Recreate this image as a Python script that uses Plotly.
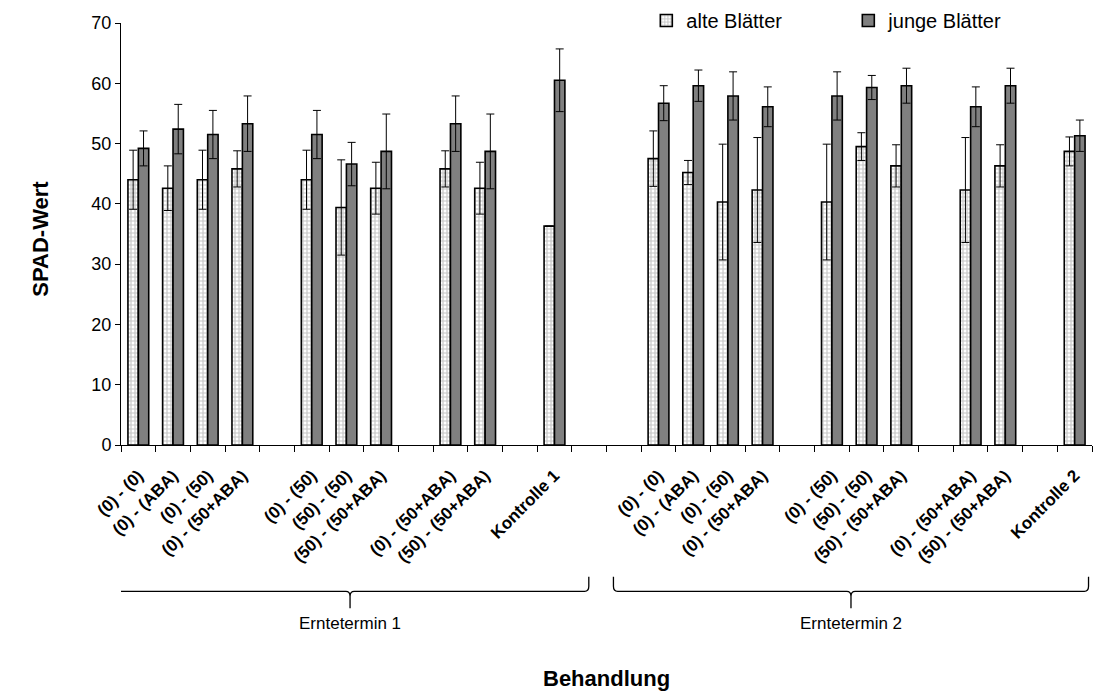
import plotly.graph_objects as go

# Treatment labels per slot; empty strings are spacer slots between groups
labels_e1 = ["(0) - (0)", "(0) - (ABA)", "(0) - (50)", "(0) - (50+ABA)", "",
             "(0) - (50)", "(50) - (50)", "(50) - (50+ABA)", "",
             "(0) - (50+ABA)", "(50) - (50+ABA)", "", "Kontrolle 1"]
labels_gap = ["", ""]
labels_e2 = ["(0) - (0)", "(0) - (ABA)", "(0) - (50)", "(0) - (50+ABA)", "",
             "(0) - (50)", "(50) - (50)", "(50) - (50+ABA)", "",
             "(0) - (50+ABA)", "(50) - (50+ABA)", "", "Kontrolle 2"]

# SPAD values, old leaves
alte_e1 = [44.0, 42.6, 44.0, 45.8, None, 44.0, 39.4, 42.6, None, 45.8, 42.6, None, 36.3]
alte_e2 = [47.5, 45.2, 40.3, 42.3, None, 40.3, 49.5, 46.3, None, 42.3, 46.3, None, 48.7]
alte_err_e1 = [4.9, 3.7, 4.9, 3.0, None, 4.9, 7.9, 4.3, None, 3.0, 4.3, None, 0.0]
alte_err_e2 = [4.6, 2.0, 9.6, 8.7, None, 9.6, 2.3, 3.5, None, 8.7, 3.5, None, 2.4]

# SPAD values, young leaves
junge_e1 = [49.2, 52.4, 51.5, 53.3, None, 51.5, 46.6, 48.7, None, 53.3, 48.7, None, 60.5]
junge_e2 = [56.7, 59.6, 57.9, 56.1, None, 57.9, 59.3, 59.6, None, 56.1, 59.6, None, 51.3]
junge_err_e1 = [2.9, 4.1, 4.0, 4.6, None, 4.0, 3.6, 6.2, None, 4.6, 6.2, None, 5.2]
junge_err_e2 = [2.9, 2.6, 4.0, 3.3, None, 4.0, 2.0, 2.9, None, 3.3, 2.9, None, 2.6]

gap = [None, None]
tick_labels = labels_e1 + labels_gap + labels_e2
alte = alte_e1 + gap + alte_e2
alte_err = alte_err_e1 + gap + alte_err_e2
junge = junge_e1 + gap + junge_e2
junge_err = junge_err_e1 + gap + junge_err_e2
slots = list(range(len(tick_labels)))

FONT = "Liberation Sans, Arial, sans-serif"

fig = go.Figure()
fig.add_trace(go.Bar(
    x=slots, y=alte, name="alte Blätter",
    marker=dict(color="white", line=dict(color="black", width=1.6),
                pattern=dict(shape="+", fgcolor="#8c8c8c", bgcolor="white",
                             size=4, solidity=0.5)),
    error_y=dict(type="data", array=alte_err, visible=True,
                 color="black", thickness=1, width=4),
))
fig.add_trace(go.Bar(
    x=slots, y=junge, name="junge Blätter",
    marker=dict(color="#808080", line=dict(color="black", width=1.6)),
    error_y=dict(type="data", array=junge_err, visible=True,
                 color="black", thickness=1, width=4),
))

# Curly braces under the two harvest dates
def brace(x0, x1, xc):
    yt, ym, yb, ry, rx = -0.312, -0.347, -0.387, 0.012, 0.12
    return (f"M {x0},{yt} L {x0},{ym + ry} Q {x0},{ym} {x0 + rx},{ym} "
            f"L {xc - rx},{ym} Q {xc},{ym} {xc},{ym - ry} L {xc},{yb} "
            f"M {xc},{ym - ry} Q {xc},{ym} {xc + rx},{ym} "
            f"L {x1 - rx},{ym} Q {x1},{ym} {x1},{ym + ry} L {x1},{yt}")

for (x0, x1, text) in [(-0.78, 12.99, "Erntetermin 1"), (13.7, 27.4, "Erntetermin 2")]:
    xc = (x0 + x1) / 2
    fig.add_shape(type="path", path=brace(x0, x1, xc), xref="x", yref="paper",
                  line=dict(color="black", width=1.3))
    fig.add_annotation(x=xc, y=-0.4225, xref="x", yref="paper", text=text,
                       xanchor="center", yanchor="middle", showarrow=False,
                       font=dict(family=FONT, size=17, color="black"))

# Axis titles
fig.add_annotation(x=0.5, y=-0.553, xref="paper", yref="paper", text="Behandlung",
                   xanchor="center", yanchor="middle", showarrow=False,
                   font=dict(family=FONT, size=22, color="black", weight="bold"))
fig.add_annotation(x=-0.083, y=0.49, xref="paper", yref="paper", text="SPAD-Wert",
                   textangle=-90, xanchor="center", yanchor="middle", showarrow=False,
                   font=dict(family=FONT, size=22, color="black", weight="bold"))

fig.update_layout(
    width=1093, height=699,
    margin=dict(l=121, r=1, t=19, b=254),
    paper_bgcolor="white", plot_bgcolor="white",
    barmode="group", bargap=0.4, bargroupgap=0,
    font=dict(family=FONT, color="black"),
    showlegend=True,
    legend=dict(orientation="h", x=0.541, xanchor="left", y=1.006, yanchor="middle",
                bgcolor="rgba(0,0,0,0)", font=dict(size=20),
                entrywidth=157, entrywidthmode="pixels", itemwidth=30),
    xaxis=dict(
        range=[-0.5, len(tick_labels) - 0.5],
        tickmode="array", tickvals=slots, ticktext=tick_labels,
        tickangle=-45, ticks="", showgrid=False, zeroline=False,
        showline=True, linecolor="black", linewidth=1,
        tickfont=dict(family=FONT, size=17, color="black", weight="bold"),
        ticklabelstandoff=13,
        minor=dict(tickmode="array",
                   tickvals=[s - 0.5 for s in slots] + [len(slots) - 0.5],
                   ticks="outside", ticklen=6, tickcolor="black", tickwidth=1),
        automargin=False,
    ),
    yaxis=dict(
        range=[0, 70], dtick=10, ticks="outside", ticklen=5, tickcolor="black",
        showgrid=False, zeroline=False, showline=True, linecolor="black", linewidth=1,
        tickfont=dict(family=FONT, size=18, color="black"),
        automargin=False,
    ),
)

fig.write_html("out.html")
